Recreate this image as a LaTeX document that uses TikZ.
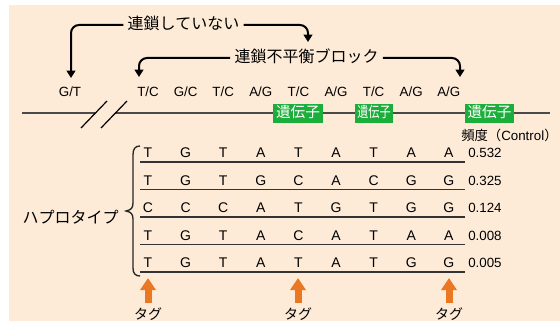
\documentclass[tikz,border=0pt]{standalone}
\usepackage{fontspec}
\setmainfont{Liberation Sans}
\newfontfamily\jp{Noto Sans CJK JP}
\usetikzlibrary{arrows.meta,calc}
\definecolor{bgpeach}{HTML}{FDEBD7}
\definecolor{geneg}{HTML}{1CAE3B}
\definecolor{tagor}{HTML}{EC7722}
\definecolor{lineg}{HTML}{4A4A4A}
\begin{document}
\begin{tikzpicture}[x=0.75pt,y=-0.75pt,
  ann/.style={font=\jp\fontsize{12}{14}\selectfont, inner xsep=3pt, inner ysep=1pt, text height=0.8em, text depth=0.1em},
  lab/.style={font=\fontsize{10}{12}\selectfont, inner sep=0pt, text height=0.72em, text depth=0pt},
  hap/.style={font=\fontsize{10.5}{12}\selectfont, inner sep=0pt, text height=0.72em, text depth=0pt},
  num/.style={font=\fontsize{10}{12}\selectfont, inner sep=0pt, text height=0.72em, text depth=0pt, anchor=west},
  gene/.style={fill=geneg, text=white, font=\jp\fontsize{11}{13}\selectfont, inner sep=0pt, minimum height=14.25pt, text height=0.8em, text depth=0.1em},
  blk/.style={draw=black, line width=1.5pt, rounded corners=6pt, -{Triangle[width=6.5pt,length=5.5pt]}},
  tagarr/.style={draw=tagor, line width=5.25pt, -{Triangle[width=11.25pt,length=9pt]}},
  tagl/.style={font=\jp\fontsize{10.5}{12}\selectfont, inner sep=0pt, text height=0.8em, text depth=0.1em},
  rowline/.style={draw=black!80, line width=1.1pt}
]
\useasboundingbox (0,0) rectangle (560,321);
\fill[white] (0,0) rectangle (560,321);
\fill[bgpeach] (9,5) rectangle (560,321);

% annotations
\node[ann] (t1) at (183.5,25) {連鎖していない};
\node[ann] (t2) at (306.5,58) {連鎖不平衡ブロック};
\coordinate (a1) at (71,78);
\coordinate (a2) at (308,42);
\coordinate (a3) at (139,77);
\coordinate (a4) at (460,77);
\draw[blk] (t1.west) -| (a1);
\draw[blk] (t1.east) -| (a2);
\draw[blk] (t2.west) -| (a3);
\draw[blk] (t2.east) -| (a4);

% top SNP labels
\node[lab] (c0) at (70,91.5) {G/T};
\node[lab] (c1) at (148,91.5) {T/C};
\node[lab] (c2) at (185.6,91.5) {G/C};
\node[lab] (c3) at (223.2,91.5) {T/C};
\node[lab] (c4) at (260.8,91.5) {A/G};
\node[lab] (c5) at (298.4,91.5) {T/C};
\node[lab] (c6) at (336,91.5) {A/G};
\node[lab] (c7) at (373.6,91.5) {T/C};
\node[lab] (c8) at (411.2,91.5) {A/G};
\node[lab] (c9) at (448.8,91.5) {A/G};

% chromosome line with break
\draw[draw=lineg, line width=0.9pt] (22,113) -- (95,113);
\draw[draw=lineg, line width=0.9pt] (115,113) -- (550,113);
\draw[black, line width=0.9pt] (81,128) -- (107,101);
\draw[black, line width=0.9pt] (101,128) -- (127,101);

% genes
\node[gene, minimum width=37.5pt] (g1) at (298,113) {遺伝子};
\node[gene, minimum width=28.5pt] (g2) at (374,113) {\scalebox{0.76}[1]{遺伝子}};
\node[gene, minimum width=36.75pt] (g3) at (489.5,113) {遺伝子};

% frequency header
\node[font=\fontsize{10}{12}\selectfont, inner sep=0pt, anchor=west, text height=0.8em, text depth=0.1em] (fh) at (461,136) {{\jp 頻度（}Control{\jp ）}};

% haplotypes
\foreach \row [count=\r] in {{T,G,T,A,T,A,T,A,A},{T,G,T,G,C,A,C,G,G},{C,C,C,A,T,G,T,G,G},{T,G,T,A,C,A,T,A,A},{T,G,T,A,T,A,T,G,G}}{
  \foreach \l [count=\c] in \row {
    \node[hap] (h\r-\c) at ({148+37.6*(\c-1)},{153+27.5*(\r-1)}) {\l};
  }
  \draw[rowline] (140,{162+27.5*(\r-1)}) -- (465,{162+27.5*(\r-1)});
}
\foreach \f [count=\r] in {0.532,0.325,0.124,0.008,0.005}{
  \node[num] (f\r) at (468,{153+27.5*(\r-1)}) {\f};
}

% brace
\draw[black!85, line width=1pt] (140,146) .. controls (135,146) and (133,149) .. (133,155) -- (133,203)
  .. controls (133,208) and (131,210) .. (126,211)
  .. controls (131,212) and (133,214) .. (133,219) -- (133,268)
  .. controls (133,273) and (135,276) .. (140,276);
\node[ann] (hp) at (70.5,219) {ハプロタイプ};

% tags
\foreach \x [count=\i] in {148,298,449}{
  \coordinate (s\i) at (\x,303);
  \coordinate (p\i) at (\x,278);
  \draw[tagarr] (s\i) -- (p\i);
  \node[tagl] (tg\i) at (\x,314.5) {タグ};
}
\end{tikzpicture}
\end{document}
